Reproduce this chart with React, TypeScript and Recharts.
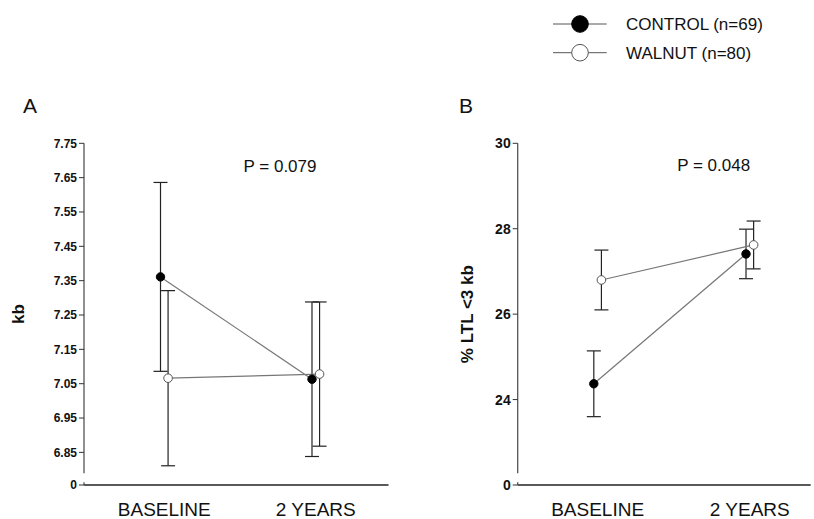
import React from 'react';
import { ComposedChart, Line, XAxis, YAxis, ErrorBar, Legend } from 'recharts';

// ---------- data ----------
const categories = ['BASELINE', '2 YEARS'];
const seriesNames = ['CONTROL (n=69)', 'WALNUT (n=80)'];

// Panel A: mean LTL (kb)
const kbControl = [7.361, 7.063];
const kbControlErr = [0.275, 0.225];
const kbWalnut = [7.066, 7.078];
const kbWalnutErr = [0.255, 0.21];
const kbTicks = [6.85, 6.95, 7.05, 7.15, 7.25, 7.35, 7.45, 7.55, 7.65, 7.75];
const kbBreak = 6.755;

// Panel B: % LTL < 3 kb
const ltlControl = [24.37, 27.41];
const ltlControlErr = [0.77, 0.58];
const ltlWalnut = [26.8, 27.62];
const ltlWalnutErr = [0.7, 0.56];
const ltlTicks = [24, 26, 28, 30];
const ltlBreak = 22;

const pValues = ['P = 0.079', 'P = 0.048'];
const panelLetters = ['A', 'B'];

// ---------- styling ----------
const FONT = '"Liberation Sans", Arial, Helvetica, sans-serif';
const GROUP_OFFSET = 0.025;
const LINE_COLOR = '#777';
const ERR_COLOR = '#222';

const seriesStyle = [
  { fill: '#000', stroke: '#000' },
  { fill: '#fff', stroke: '#555' },
];

function toPoints(values: number[], errs: number[], offset: number) {
  return values.map((v, i) => ({ x: i + offset, y: v, err: errs[i] }));
}

function LegendContent() {
  return (
    <svg width={260} height={70} style={{ overflow: 'visible' }}>
      {seriesNames.map((name, i) => {
        const cy = 24 + i * 28.7;
        return (
          <g key={name}>
            <line x1={3} x2={56.7} y1={cy} y2={cy} stroke="#555" strokeWidth={1} />
            <circle cx={30} cy={cy} r={8.3} fill={seriesStyle[i].fill} stroke={seriesStyle[i].stroke} strokeWidth={1} />
            <text x={76} y={cy + 6} fontSize={17} fontFamily={FONT} fill="#111">
              {name}
            </text>
          </g>
        );
      })}
    </svg>
  );
}

function makeYLabel(text: string, dx: number) {
  return (props: any) => {
    const vb = props.viewBox || {};
    const x = (vb.x ?? 0) + dx;
    const y = (vb.y ?? 143.3) + (vb.height ?? 341.7) / 2;
    return (
      <text
        x={x}
        y={y}
        transform={`rotate(-90, ${x}, ${y})`}
        textAnchor="middle"
        fontSize={17}
        fontWeight="bold"
        fontFamily={FONT}
        fill="#111"
      >
        {text}
      </text>
    );
  };
}

type PanelProps = {
  left: number;
  width: number;
  marginLeft: number;
  marginRight: number;
  yWidth: number;
  yDomain: [number, number];
  yTicks: number[];
  yBreak: number;
  yFormat: (v: number) => string;
  yFontSize: number;
  yLabel: string;
  yLabelDx: number;
  xDomain: [number, number];
  control: { x: number; y: number; err: number }[];
  walnut: { x: number; y: number; err: number }[];
  withLegend?: boolean;
};

function Panel(p: PanelProps) {
  return (
    <div style={{ position: 'absolute', left: p.left, top: 0 }}>
      <ComposedChart
        width={p.width}
        height={519}
        margin={{ top: 143.3, right: p.marginRight, bottom: 0, left: p.marginLeft }}
        style={{ fontFamily: FONT }}
      >
        <XAxis
          type="number"
          dataKey="x"
          domain={p.xDomain}
          ticks={[0, 1]}
          interval={0}
          tickFormatter={(v: number) => categories[Math.round(v)] ?? ''}
          height={34}
          tickLine={false}
          tickSize={0}
          tickMargin={17.5}
          axisLine={{ stroke: '#222', strokeWidth: 1.3 }}
          tick={{ fontSize: 19, fill: '#111', fontFamily: FONT }}
          allowDataOverflow
        />
        <YAxis
          type="number"
          domain={p.yDomain}
          ticks={[p.yBreak, ...p.yTicks]}
          interval={0}
          allowDataOverflow
          width={p.yWidth}
          tickFormatter={(v: number) => (v === p.yBreak ? '0' : p.yFormat(v))}
          tickSize={5}
          tickMargin={2}
          tickLine={{ stroke: '#333', strokeWidth: 1 }}
          axisLine={{ stroke: '#555', strokeWidth: 1.3, strokeDasharray: '330 9 20' }}
          tick={{ fontSize: p.yFontSize, fontWeight: 'bold', fill: '#111', fontFamily: FONT }}
          label={makeYLabel(p.yLabel, p.yLabelDx)}
        />
        <Line
          name={seriesNames[0]}
          data={p.control}
          dataKey="y"
          type="linear"
          stroke={LINE_COLOR}
          strokeWidth={1.2}
          dot={{ r: 4.2, fill: seriesStyle[0].fill, stroke: seriesStyle[0].stroke, strokeWidth: 1 }}
          activeDot={false}
          isAnimationActive={false}
        >
          <ErrorBar dataKey="err" direction="y" width={7} stroke={ERR_COLOR} strokeWidth={1.2} isAnimationActive={false} />
        </Line>
        <Line
          name={seriesNames[1]}
          data={p.walnut}
          dataKey="y"
          type="linear"
          stroke={LINE_COLOR}
          strokeWidth={1.2}
          dot={{ r: 4.3, fill: seriesStyle[1].fill, stroke: seriesStyle[1].stroke, strokeWidth: 1 }}
          activeDot={false}
          isAnimationActive={false}
        >
          <ErrorBar dataKey="err" direction="y" width={7} stroke={ERR_COLOR} strokeWidth={1.2} isAnimationActive={false} />
        </Line>
        {p.withLegend && (
          <Legend
            layout="horizontal"
            verticalAlign="middle"
            align="center"
            content={<LegendContent />}
            wrapperStyle={{ left: 130, top: 0, width: 260, height: 70 }}
          />
        )}
      </ComposedChart>
    </div>
  );
}

export default function App() {
  return (
    <div style={{ position: 'absolute', left: 0, top: 0, width: 814, height: 519, background: '#fff', fontFamily: FONT }}>
      <Panel
        left={0}
        width={400}
        marginLeft={14}
        marginRight={11.5}
        yWidth={70}
        yDomain={[kbBreak, 7.75]}
        yTicks={kbTicks}
        yBreak={kbBreak}
        yFormat={(v) => v.toFixed(2)}
        yFontSize={12}
        yLabel="kb"
        yLabelDx={10.5}
        xDomain={[-0.53, 1.48]}
        control={toPoints(kbControl, kbControlErr, -GROUP_OFFSET)}
        walnut={toPoints(kbWalnut, kbWalnutErr, GROUP_OFFSET)}
      />
      <Panel
        left={420}
        width={394}
        marginLeft={17.7}
        marginRight={3.3}
        yWidth={80}
        yDomain={[ltlBreak, 30]}
        yTicks={ltlTicks}
        yBreak={ltlBreak}
        yFormat={(v) => String(v)}
        yFontSize={14}
        yLabel="% LTL <3 kb"
        yLabelDx={35.6}
        xDomain={[-0.525, 1.4]}
        control={toPoints(ltlControl, ltlControlErr, -GROUP_OFFSET)}
        walnut={toPoints(ltlWalnut, ltlWalnutErr, GROUP_OFFSET)}
        withLegend
      />
      <svg
        width={814}
        height={519}
        style={{ position: 'absolute', left: 0, top: 0, pointerEvents: 'none' }}
      >
        <text x={23} y={113} fontSize={21} fontFamily={FONT} fill="#111">{panelLetters[0]}</text>
        <text x={459} y={113} fontSize={21} fontFamily={FONT} fill="#111">{panelLetters[1]}</text>
        <text x={280} y={171.5} textAnchor="middle" fontSize={17} fontFamily={FONT} fill="#111">{pValues[0]}</text>
        <text x={713.7} y={171} textAnchor="middle" fontSize={17} fontFamily={FONT} fill="#111">{pValues[1]}</text>
      </svg>
    </div>
  );
}
